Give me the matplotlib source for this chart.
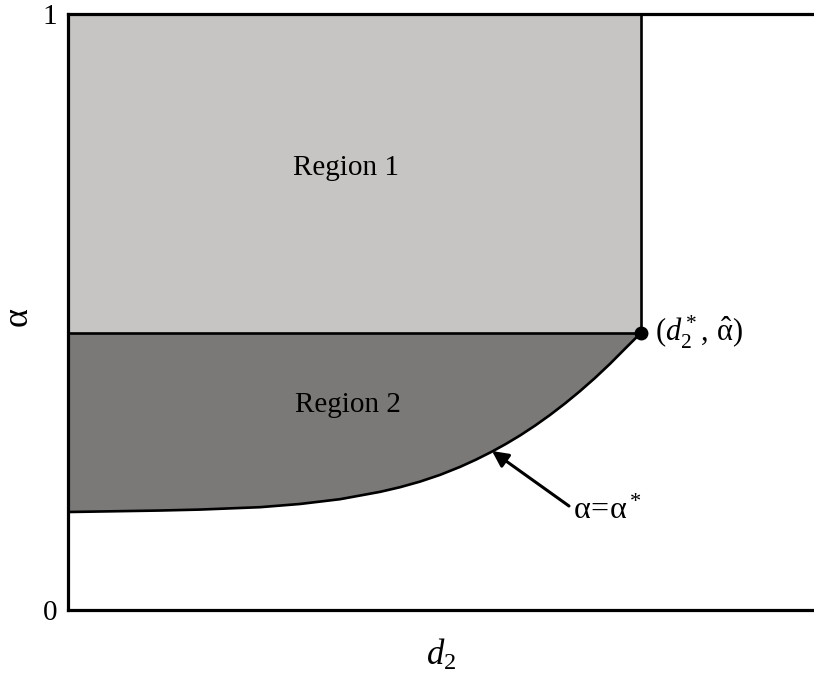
import matplotlib
matplotlib.use("Agg")
import matplotlib.pyplot as plt

plt.rcParams['font.family'] = ['Liberation Serif', 'DejaVu Serif']
plt.rcParams['mathtext.fontset'] = 'custom'
plt.rcParams['mathtext.rm'] = 'Liberation Serif'
plt.rcParams['mathtext.it'] = 'Liberation Serif:italic'
plt.rcParams['mathtext.bf'] = 'Liberation Serif:bold'

# key values (data units, axes 0..1)
d2_star = 0.768
alpha_hat = 0.465
# boundary curve alpha = alpha*(d2)
curve_x = [0.0, 0.1233, 0.1769, 0.2574, 0.3110, 0.3646, 0.4182, 0.4450, 0.4718, 0.4987,
           0.5255, 0.5469, 0.5684, 0.5871, 0.6059, 0.6260, 0.6461, 0.6662, 0.6863,
           0.7064, 0.7265, 0.7466, 0.768]
curve_y = [0.1644, 0.1669, 0.1685, 0.1725, 0.1779, 0.1859, 0.1982, 0.2060, 0.2154, 0.2267,
           0.2401, 0.2523, 0.2658, 0.2787, 0.2928, 0.3093, 0.3272, 0.3465, 0.3672,
           0.3893, 0.4130, 0.4383, 0.465]
ytick_vals = [0, 1]
ytick_labels = ['0', '1']

fig = plt.figure(figsize=(8.14, 6.79), dpi=100)
ax = fig.add_axes([68/814, 1-610/679, 746/814, 596/679])
ax.set_xlim(0, 1)
ax.set_ylim(0, 1)

light = '#c6c5c3'
dark = '#7a7977'

# Region 1
ax.fill_between([0, d2_star], [alpha_hat, alpha_hat], [1, 1], color=light, lw=0, zorder=1)
# Region 2
ax.fill_between(curve_x, curve_y, [alpha_hat]*len(curve_x), color=dark, lw=0, zorder=1)

ax.plot(curve_x, curve_y, color='black', lw=1.9, zorder=3, solid_joinstyle='round')
ax.plot([0, d2_star], [alpha_hat, alpha_hat], color='black', lw=1.9, zorder=3)
ax.plot([d2_star, d2_star], [alpha_hat, 1], color='black', lw=1.9, zorder=3)
ax.plot([d2_star], [alpha_hat], 'o', color='black', ms=9, zorder=4)

for s in ['left', 'top', 'bottom']:
    ax.spines[s].set_linewidth(2.3)
ax.spines['right'].set_visible(False)

ax.set_xticks([])
ax.set_yticks(ytick_vals)
ax.set_yticklabels(ytick_labels, fontsize=21)
ax.tick_params(axis='y', length=0, pad=8)

ax.set_ylabel(r'$\mathrm{\alpha}$', fontsize=26)
ax.yaxis.set_label_coords(-0.043, 0.49)
ax.set_xlabel(r'$d_2$', fontsize=25, labelpad=20)

ax.text(0.372, (610-168)/596, 'Region 1', fontsize=21, ha='center', va='center')
ax.text(0.375, (610-405)/596, 'Region 2', fontsize=21, ha='center', va='center')

ax.text((655-68)/746, alpha_hat, r'$(d_2^*,\,\hat{\mathrm{\alpha}})$', fontsize=22,
        ha='left', va='center')

ax.annotate('', xy=((492-68)/746, (610-451)/596),
            xytext=((569-68)/746, (610-506)/596),
            arrowprops=dict(arrowstyle='-|>', color='black', lw=2.2, shrinkA=0, shrinkB=0,
                            mutation_scale=24))
ax.text((573-68)/746, (610-511)/596, r'$\mathrm{\alpha}\!=\!\mathrm{\alpha}^*$', fontsize=23,
        ha='left', va='center')

fig.savefig('out.png', dpi=100)
